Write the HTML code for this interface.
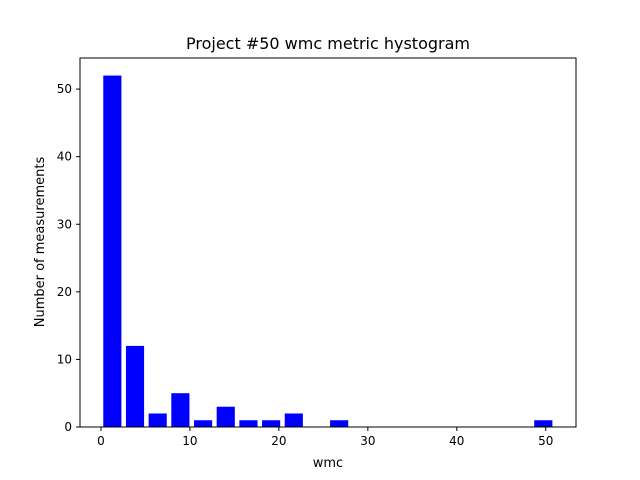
<!DOCTYPE html>
<html><head><meta charset="utf-8"><style>
html,body{margin:0;padding:0;background:#fff;}
svg{display:block;font-family:"DejaVu Sans","Liberation Sans",sans-serif;}
</style></head><body>
<svg id="chart" width="640" height="480" viewBox="0 0 640 480">
<rect width="640" height="480" fill="#fff"/>
<text x="328" y="49" text-anchor="middle" font-size="16">Project #50 wmc metric hystogram</text>
<g id="bars"></g>
<g id="axes"></g>
<text x="328" y="467" text-anchor="middle" font-size="13">wmc</text>
<text transform="translate(44,242) rotate(-90)" text-anchor="middle" font-size="13">Number of measurements</text>
</svg>
<script>
const binStart = 0;
const binWidth = 2.55;
const counts = [52,12,2,5,1,3,1,1,2,0,1,0,0,0,0,0,0,0,0,1];
const xTicks = [0,10,20,30,40,50];
const yTicks = [0,10,20,30,40,50];

const L=80,R=576,T=58,B=427;
const xMin=-2.36,xMax=53.4,yMin=0,yMax=54.6;
function xs(v){return L+(v-xMin)/(xMax-xMin)*(R-L);}
function ys(v){return B-(v-yMin)/(yMax-yMin)*(B-T);}
const NS="http://www.w3.org/2000/svg";
function mk(tag,attrs,parent){const e=document.createElementNS(NS,tag);for(const k in attrs)e.setAttribute(k,attrs[k]);parent.appendChild(e);return e;}
const bars=document.getElementById('bars');
counts.forEach((c,i)=>{
  if(c<=0)return;
  const center=binStart+binWidth*(i+0.5);
  const w=binWidth*0.8;
  const x0=xs(center-w/2),x1=xs(center+w/2);
  const r=mk('rect',{x:x0,y:ys(c),width:x1-x0,height:ys(0)-ys(c),fill:'#0000ff'},bars);
  
  
});
const axes=document.getElementById('axes');
const frame=mk('rect',{x:L,y:T,width:R-L,height:B-T,fill:'none',stroke:'#000','stroke-width':1},axes);


xTicks.forEach(t=>{
  const x=xs(t);
  const l=mk('line',{x1:x,x2:x,y1:B,y2:B+4,stroke:'#000'},axes);
  
  
  const tx=mk('text',{x:x,y:B+18,'text-anchor':'middle','font-size':'12'},axes);
  tx.textContent=t;
  
  
});
yTicks.forEach(t=>{
  const y=ys(t);
  const l=mk('line',{x1:L-4,x2:L,y1:y,y2:y,stroke:'#000'},axes);
  
  
  const tx=mk('text',{x:L-8,y:y+4,'text-anchor':'end','font-size':'12'},axes);
  tx.textContent=t;
  
  
});
</script>
</body></html>
